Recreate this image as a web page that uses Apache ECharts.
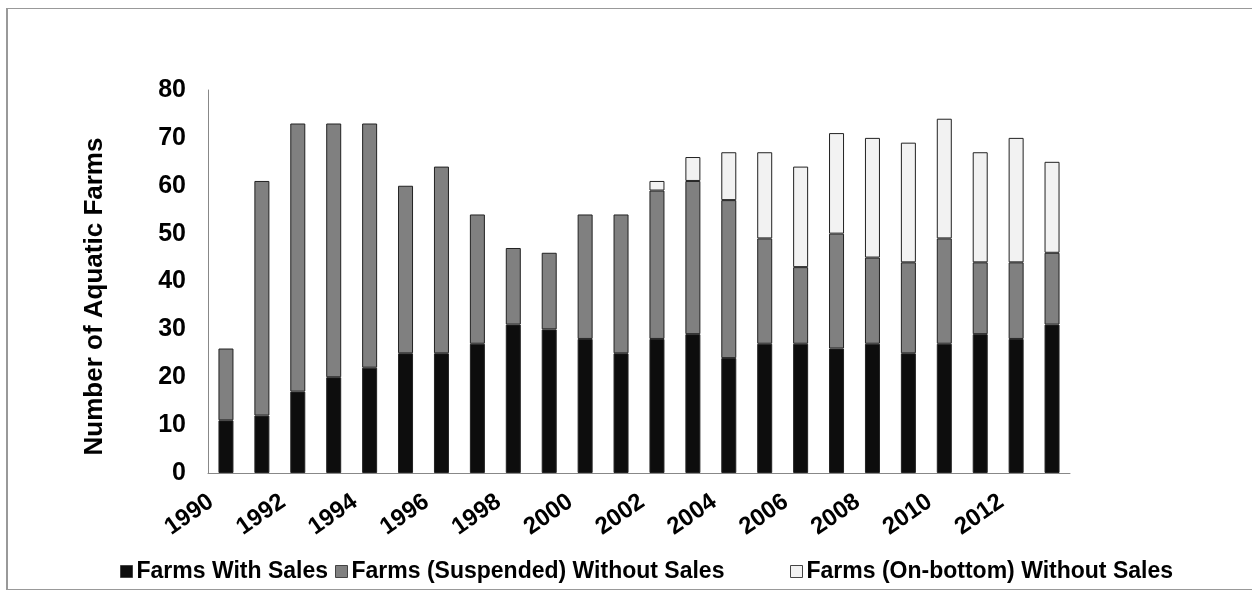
<!DOCTYPE html>
<html>
<head>
<meta charset="utf-8">
<script src="https://cdn.jsdelivr.net/npm/echarts@6/dist/echarts.min.js"></script>
<style>
html,body{margin:0;padding:0;background:#fff;}
#frame{position:absolute;left:6px;top:8px;width:1250px;height:582px;border:1px solid #999;border-left-width:2px;box-sizing:border-box;border-right:none;}
#chart{position:absolute;left:0;top:0;width:1252px;height:591px;}
</style>
</head>
<body>
<div id="frame"></div>
<div id="chart"></div>
<script>
const years = ['1990','1991','1992','1993','1994','1995','1996','1997','1998','1999','2000','2001','2002','2003','2004','2005','2006','2007','2008','2009','2010','2011','2012','2013'];
const withSales = [11,12,17,20,22,25,25,27,31,30,28,25,28,29,24,27,27,26,27,25,27,29,28,31];
const suspended = [15,49,56,53,51,35,39,27,16,16,26,29,31,32,33,22,16,24,18,19,22,15,16,15];
const onBottom  = [0,0,0,0,0,0,0,0,0,0,0,0,2,5,10,18,21,21,25,25,25,23,26,19];
const seriesNames = ['Farms With Sales','Farms (Suspended) Without Sales','Farms (On-bottom) Without Sales'];
const yTicks = {min:0, max:80, interval:10};

const font = '"Liberation Sans", Arial, sans-serif';
const chart = echarts.init(document.getElementById('chart'));
const mk = (name, data, color) => ({
  name, type:'bar', stack:'total', data: data.map(v => v === 0 ? null : v), barWidth:15,
  itemStyle:{color, borderColor:'#222', borderWidth:1},
  emphasis:{disabled:true}
});
const legendAt = (name, left) => ({
  left, top:555, itemWidth:12, itemHeight:12, itemGap:5, icon:'rect',
  textStyle:{fontFamily:font, fontWeight:'bold', fontSize:23, color:'#000', padding:[0,0,0,-1]},
  data:[{name, itemStyle:{borderColor:'#444', borderWidth:1}}]
});
chart.setOption({
  animation:false,
  textStyle:{fontFamily:font},
  grid:{left:208, right:182, top:90, bottom:118, containLabel:false},
  legend:[legendAt(seriesNames[0],115), legendAt(seriesNames[1],330), legendAt(seriesNames[2],785)],
  xAxis:{
    type:'category', data:years,
    axisLine:{lineStyle:{color:'#888', width:1}},
    axisTick:{show:false},
    axisLabel:{interval:1, rotate:35, fontFamily:font, fontWeight:'bold', fontSize:24, color:'#000', margin:16, padding:[0,18,0,0]}
  },
  yAxis:{
    type:'value', min:yTicks.min, max:yTicks.max, interval:yTicks.interval,
    name:'Number of Aquatic Farms', nameLocation:'middle', nameGap:100, nameRotate:90,
    nameTextStyle:{fontFamily:font, fontWeight:'bold', fontSize:26, color:'#000', padding:[0,30,0,0]},
    axisLine:{show:true, lineStyle:{color:'#888', width:1}},
    axisTick:{show:false},
    splitLine:{show:false},
    axisLabel:{fontFamily:font, fontWeight:'bold', fontSize:25, color:'#000', margin:22}
  },
  series:[
    mk(seriesNames[0], withSales, '#0d0d0d'),
    mk(seriesNames[1], suspended, '#808080'),
    mk(seriesNames[2], onBottom, '#f2f2f2')
  ]
});
</script>
</body>
</html>
